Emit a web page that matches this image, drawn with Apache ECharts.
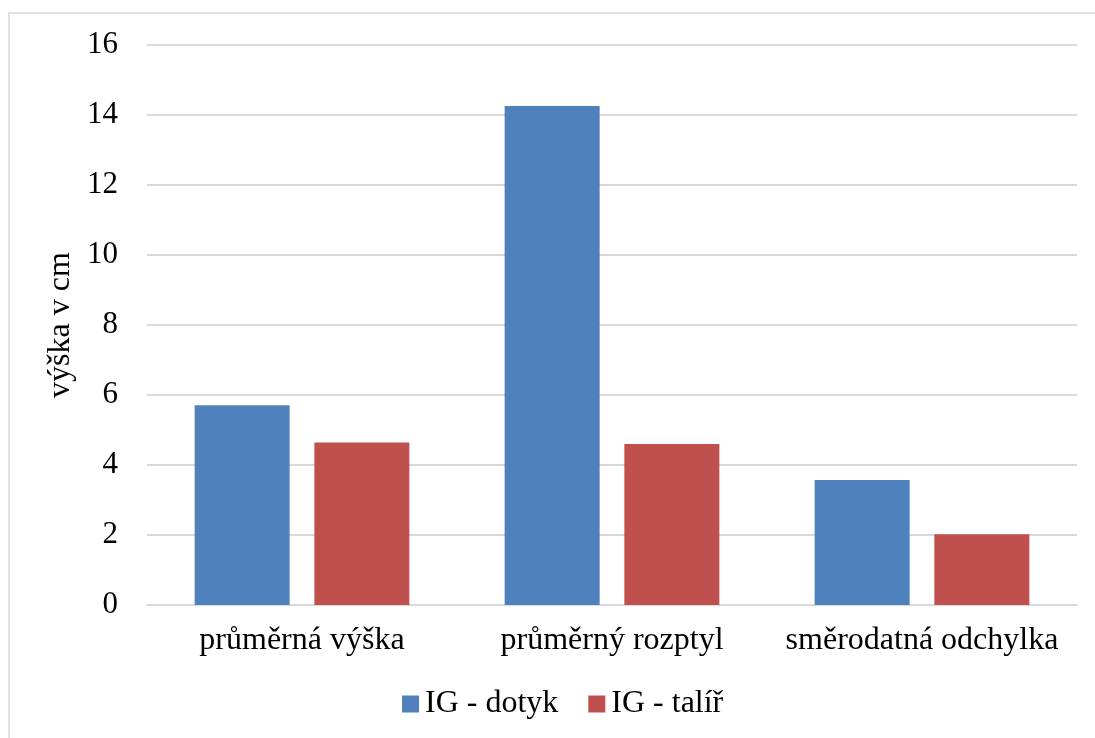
<!DOCTYPE html>
<html>
<head>
<meta charset="utf-8">
<script src="https://cdn.jsdelivr.net/npm/echarts@6/dist/echarts.min.js"></script>
<style>
  html, body { margin: 0; padding: 0; background: #fff; }
  #chart { width: 1095px; height: 738px; }
</style>
</head>
<body>
<div id="chart"></div>
<script>
// Categories and values (výška v cm)
var categories = ['průměrná výška', 'průměrný rozptyl', 'směrodatná odchylka'];
var seriesNames = ['IG - dotyk', 'IG - talíř'];
var dotykValues = [5.71, 14.26, 3.57];
var talirValues = [4.64, 4.60, 2.02];
var yAxisName = 'výška v cm';

var FONT = '"Liberation Serif", "Times New Roman", serif';

var chart = echarts.init(document.getElementById('chart'), null, { renderer: 'canvas' });

chart.setOption({
  animation: false,
  backgroundColor: '#ffffff',
  graphic: [{
    type: 'rect',
    shape: { x: 9, y: 13, width: 1200, height: 800 },
    style: { fill: 'none', stroke: '#d9d9d9', lineWidth: 1.5 },
    silent: true
  }],
  grid: { left: 147, right: 18, top: 45, bottom: 133, containLabel: false },
  legend: {
    data: seriesNames,
    bottom: 13,
    left: 397,
    itemWidth: 17,
    itemHeight: 17,
    itemGap: 30,
    icon: 'rect',
    textStyle: { fontFamily: FONT, fontSize: 32, color: '#000', padding: [0, 0, 0, 1] }
  },
  xAxis: {
    type: 'category',
    data: categories,
    axisLine: { show: true, lineStyle: { color: '#d9d9d9', width: 2 } },
    axisTick: { show: false },
    axisLabel: { fontFamily: FONT, fontSize: 32, color: '#000', margin: 20, interval: 0 }
  },
  yAxis: {
    type: 'value',
    min: 0, max: 16, interval: 2,
    name: yAxisName,
    nameLocation: 'middle',
    nameGap: 60,
    nameTextStyle: { fontFamily: FONT, fontSize: 32, color: '#000' },
    axisLine: { show: false },
    axisTick: { show: false },
    splitLine: { lineStyle: { color: '#d9d9d9', width: 2 } },
    axisLabel: { fontFamily: FONT, fontSize: 31, color: '#000', margin: 29 }
  },
  series: [
    {
      name: seriesNames[0],
      type: 'bar',
      data: dotykValues,
      barWidth: 95,
      barGap: '26%',
      itemStyle: { color: '#4f81bd' }
    },
    {
      name: seriesNames[1],
      type: 'bar',
      data: talirValues,
      barWidth: 95,
      barGap: '26%',
      itemStyle: { color: '#c0504d' }
    }
  ]
});
</script>
</body>
</html>
